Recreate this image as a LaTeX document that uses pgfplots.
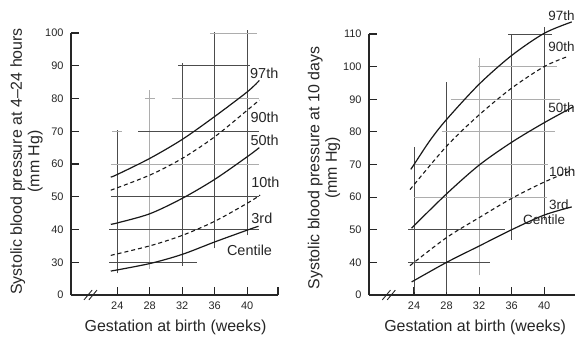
\documentclass[border=0pt]{standalone}
\usepackage{pgfplots}
\pgfplotsset{compat=1.18}
\usepackage{fontspec}
\setmainfont{Liberation Sans}
\begin{document}
\begin{tikzpicture}
\useasboundingbox (0bp,0bp) rectangle (575bp,339bp);
\tikzset{
  gd/.style={black!70, line width=0.9bp},
  gl/.style={black!32, line width=0.9bp},
  cent/.style={black!90, line width=1.2bp, smooth},
  centd/.style={black!90, line width=1.1bp, smooth, dash pattern=on 4bp off 3bp},
  lab/.style={anchor=west, font=\fontsize{14.5}{16}\selectfont, text=black!85, inner sep=0pt},
  labr/.style={anchor=west, font=\fontsize{13.5}{15}\selectfont, text=black!85, inner sep=0pt},
}
\pgfplotsset{
  common/.style={
    scale only axis, anchor=south west,
    axis x line=bottom, axis y line=left,
    axis line style={-, line width=1.4bp, black!85},
    tick align=inside,
    major tick length=8bp,
    tick style={line width=1.1bp, black!85},
    xtick={24,28,32,36,40},
    ticklabel style={font=\fontsize{11}{12}\selectfont, text=black!85},
    yticklabel style={xshift=-4bp},
    xticklabel style={yshift=-3bp},
    /pgf/number format/assume math mode=true,
    clip=false,
    label style={font=\fontsize{16}{17.5}\selectfont, text=black!85},
    ylabel style={anchor=center, align=center},
    xlabel style={anchor=center},
  },
}
% ---------------- Left panel ----------------
\begin{axis}[common, at={(71bp,44bp)}, width=207bp, height=262bp,
  xmin=18.3, xmax=43.8, ymin=20, ymax=100,
  ytick={20,30,40,50,60,70,80,90,100},
  yticklabels={0,30,40,50,60,70,80,90,100},
  extra x ticks={43.8}, extra x tick labels={},
  xlabel={Gestation at birth (weeks)},
  ylabel={Systolic blood pressure at 4--24 hours\\(mm Hg)},
  xlabel style={at={(axis description cs:0.505,0)}, yshift=-32bp},
  ylabel style={at={(axis description cs:-0.215,0.51)}},
]
% reference lines
\addplot[gd] coordinates {(24,26.6) (24,70.5)};
\addplot[gl] coordinates {(28,28) (28,82.5)};
\addplot[gd] coordinates {(32,29) (32,90.8)};
\addplot[gd] coordinates {(36,34.2) (36,100.3)};
\addplot[gd] coordinates {(40,38.2) (40,100.9)};
\addplot[gl] coordinates {(35.4,100) (41.2,100)};
\addplot[gd] coordinates {(31.5,90) (40.4,90)};
\addplot[gl] coordinates {(30.7,80) (41.4,80)};
\addplot[gl] coordinates {(27.4,80) (28.6,80)};
\addplot[gd] coordinates {(26.6,70) (41.4,70)};
\addplot[gl] coordinates {(23.4,70) (24.6,70)};
\addplot[gl] coordinates {(23.2,60) (41.4,60)};
\addplot[gd] coordinates {(23.2,50) (41.4,50)};
\addplot[gd, line width=1.4bp] coordinates {(23,40) (41.4,40)};
\addplot[gd] coordinates {(23,30) (33.8,30)};
% centiles
\addplot[cent] coordinates {(23.2,56) (24,56.8) (28,61.7) (32,67.5) (36,74.5) (40,82) (41.5,85.5)};
\addplot[centd] coordinates {(23.2,52) (28,56.6) (32,61.7) (36,68.3) (40,76.4) (41.5,79.5)};
\addplot[cent] coordinates {(23.2,41.6) (24,42) (28,44.8) (32,49.5) (36,55.3) (40,62.2) (41.5,65)};
\addplot[centd] coordinates {(23.2,32.1) (28,35) (32,38.2) (36,42.5) (40,48) (41.6,50.5)};
\addplot[cent] coordinates {(23.2,27.3) (28,29.6) (32,32.4) (36,36.2) (40,39.8) (41.4,41)};
\node[lab] at (axis cs:40.35,87.6) {97th};
\node[lab] at (axis cs:40.4,74.4) {90th};
\node[lab] at (axis cs:40.4,67.3) {50th};
\node[lab] at (axis cs:40.5,54.5) {10th};
\node[lab] at (axis cs:40.5,43.3) {3rd};
\node[lab] at (axis cs:37.5,33.7) {Centile};
\draw[black!85, line width=0.9bp] (axis cs:19.9,18.5) -- (axis cs:20.9,21.5);
\draw[black!85, line width=0.9bp] (axis cs:20.5,18.5) -- (axis cs:21.5,21.5);
\end{axis}
% ---------------- Right panel ----------------
\begin{axis}[common, at={(369bp,44bp)}, width=206bp, height=261bp,
  xmin=18.46, xmax=43.8, ymin=30, ymax=110,
  ytick={30,40,50,60,70,80,90,100,110},
  yticklabels={0,40,50,60,70,80,90,100,110},
  xlabel={Gestation at birth (weeks)},
  ylabel={Systolic blood pressure at 10 days\\(mm Hg)},
  xlabel style={at={(axis description cs:0.515,0)}, yshift=-32bp},
  ylabel style={at={(axis description cs:-0.218,0.487)}},
]
\addplot[gd] coordinates {(24,31) (24,75.5)};
\addplot[gd] coordinates {(28,31) (28,95.4)};
\addplot[gl] coordinates {(32,36) (32,102.5)};
\addplot[gd] coordinates {(36,47) (36,110)};
\addplot[gd] coordinates {(40,53) (40,112)};
\addplot[gd] coordinates {(35.6,110) (41,110)};
\addplot[gl] coordinates {(31.9,100) (41.6,100)};
\addplot[gl] coordinates {(28.5,90) (42,90)};
\addplot[gl] coordinates {(27.4,80) (41.4,80)};
\addplot[gl] coordinates {(24,70) (40.5,70)};
\addplot[gl] coordinates {(24,60) (40.4,60)};
\addplot[gd] coordinates {(23.3,50) (35.2,50)};
\addplot[gd] coordinates {(23.3,40) (33.4,40)};
% centiles
\addplot[cent] coordinates {(23.6,68.5) (24,70) (26,77.5) (28,83.8) (32,94.6) (36,103.4) (40,110.2) (43.4,113.7)};
\addplot[centd] coordinates {(23.5,62.3) (28,75.6) (32,85.2) (36,93.4) (40,100) (42.8,103)};
\addplot[cent] coordinates {(23.7,50.5) (28,61) (32,69.8) (36,76.8) (40,82.8) (43.6,87.7)};
\addplot[centd] coordinates {(23.5,39) (28,47.6) (32,53.7) (36,59.6) (40,64.6) (43.6,68.4)};
\addplot[cent] coordinates {(23.7,34) (28,40) (32,45) (36,50) (40,54.5) (43.4,57)};
\node[labr] at (axis cs:40.5,115.7) {97th};
\node[labr] at (axis cs:40.5,106) {90th};
\node[labr] at (axis cs:40.5,87.3) {50th};
\node[labr] at (axis cs:40.6,67.9) {10th};
\node[labr] at (axis cs:40.6,57.8) {3rd};
\node[labr] at (axis cs:37.4,53.2) {Centile};
\draw[black!85, line width=0.9bp] (axis cs:20.1,28.5) -- (axis cs:21.1,31.5);
\draw[black!85, line width=0.9bp] (axis cs:20.7,28.5) -- (axis cs:21.7,31.5);
\end{axis}
\end{tikzpicture}
\end{document}
